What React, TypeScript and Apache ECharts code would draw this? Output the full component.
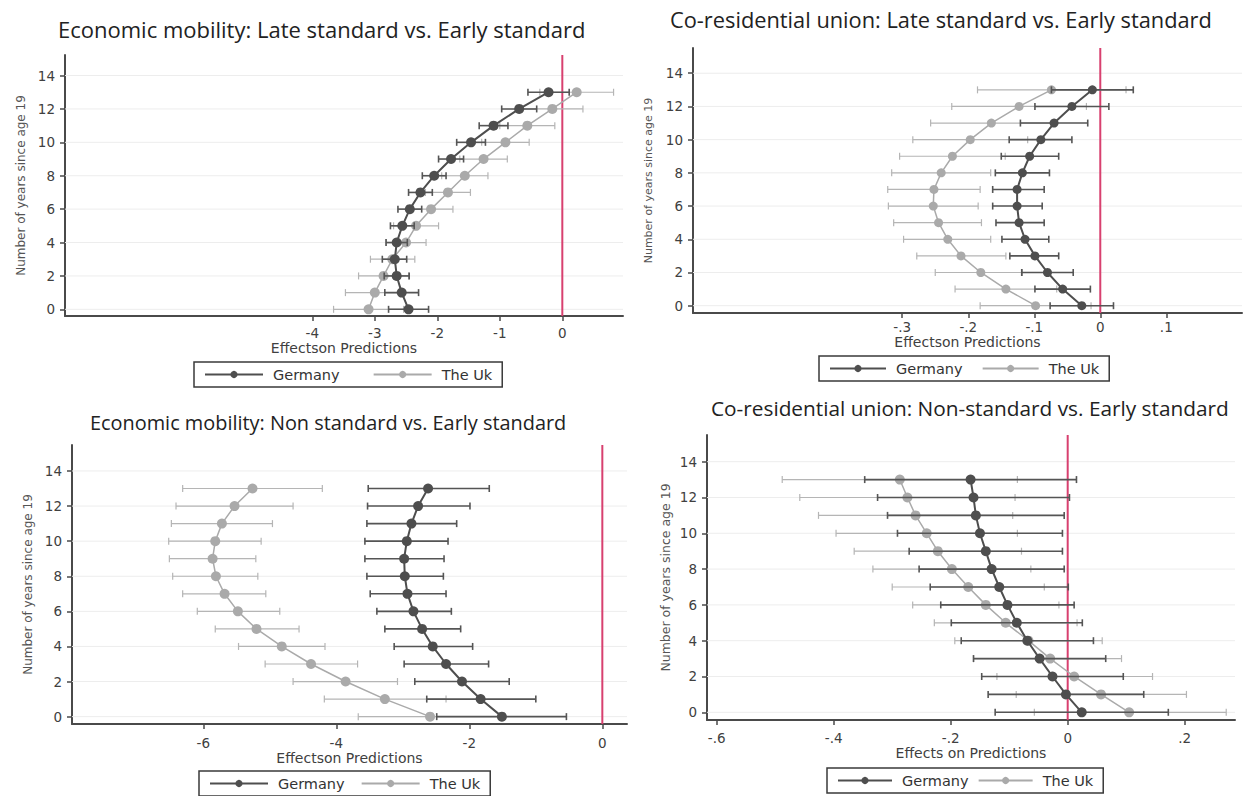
import React, { useEffect, useRef } from "react";
import * as echarts from "echarts";

// ---------- data ----------
const years = [0, 1, 2, 3, 4, 5, 6, 7, 8, 9, 10, 11, 12, 13];
const yTicks = [0, 2, 4, 6, 8, 10, 12, 14];

// Panel 1: Economic mobility, Late standard vs. Early standard
const p1XTicks = [-4, -3, -2, -1, 0];
const p1GerEst = [-2.46, -2.57, -2.65, -2.68, -2.65, -2.56, -2.44, -2.27, -2.05, -1.78, -1.46, -1.10, -0.69, -0.22];
const p1GerLo = [-2.78, -2.84, -2.85, -2.88, -2.82, -2.75, -2.63, -2.46, -2.24, -1.98, -1.69, -1.33, -0.97, -0.55];
const p1GerHi = [-2.14, -2.30, -2.45, -2.49, -2.48, -2.37, -2.25, -2.08, -1.86, -1.58, -1.23, -0.87, -0.41, 0.11];
const p1UkEst = [-3.10, -3.00, -2.86, -2.72, -2.50, -2.34, -2.10, -1.83, -1.56, -1.26, -0.91, -0.56, -0.16, 0.23];
const p1UkLo = [-3.66, -3.47, -3.26, -3.07, -2.82, -2.70, -2.45, -2.19, -1.93, -1.64, -1.29, -1.00, -0.65, -0.36];
const p1UkHi = [-2.54, -2.53, -2.46, -2.36, -2.18, -1.98, -1.75, -1.47, -1.19, -0.88, -0.53, -0.12, 0.33, 0.82];

// Panel 2: Co-residential union, Late standard vs. Early standard
const p2XTicks = [-0.3, -0.2, -0.1, 0, 0.1];
const p2GerEst = [-0.028, -0.057, -0.080, -0.099, -0.114, -0.123, -0.126, -0.126, -0.118, -0.107, -0.090, -0.070, -0.043, -0.012];
const p2GerLo = [-0.076, -0.099, -0.119, -0.137, -0.149, -0.158, -0.163, -0.163, -0.159, -0.150, -0.138, -0.121, -0.099, -0.074];
const p2GerHi = [0.020, -0.015, -0.041, -0.063, -0.078, -0.085, -0.088, -0.085, -0.077, -0.063, -0.043, -0.019, 0.013, 0.050];
const p2UkEst = [-0.098, -0.143, -0.181, -0.211, -0.231, -0.245, -0.253, -0.252, -0.241, -0.224, -0.197, -0.165, -0.123, -0.074];
const p2UkLo = [-0.182, -0.220, -0.250, -0.278, -0.298, -0.313, -0.321, -0.322, -0.316, -0.304, -0.284, -0.257, -0.225, -0.186];
const p2UkHi = [-0.014, -0.066, -0.118, -0.143, -0.166, -0.180, -0.185, -0.182, -0.166, -0.144, -0.110, -0.074, -0.021, 0.039];

// Panel 3: Economic mobility, Non standard vs. Early standard
const p3XTicks = [-6, -4, -2, 0];
const p3GerEst = [-1.51, -1.83, -2.11, -2.35, -2.55, -2.71, -2.84, -2.93, -2.97, -2.98, -2.94, -2.87, -2.77, -2.62];
const p3GerLo = [-2.49, -2.64, -2.82, -2.98, -3.13, -3.27, -3.39, -3.49, -3.54, -3.57, -3.57, -3.54, -3.53, -3.52];
const p3GerHi = [-0.54, -1.00, -1.40, -1.71, -1.95, -2.13, -2.27, -2.35, -2.39, -2.38, -2.32, -2.19, -1.99, -1.70];
const p3UkEst = [-2.59, -3.27, -3.86, -4.38, -4.82, -5.20, -5.48, -5.68, -5.81, -5.86, -5.82, -5.72, -5.53, -5.26];
const p3UkLo = [-3.67, -4.18, -4.65, -5.07, -5.47, -5.82, -6.09, -6.31, -6.46, -6.51, -6.52, -6.48, -6.41, -6.31];
const p3UkHi = [-1.51, -2.35, -3.08, -3.68, -4.17, -4.56, -4.85, -5.06, -5.18, -5.21, -5.13, -4.96, -4.65, -4.21];

// Panel 4: Co-residential union, Non-standard vs. Early standard
const p4XTicks = [-0.6, -0.4, -0.2, 0, 0.2];
const p4GerEst = [0.024, -0.003, -0.026, -0.048, -0.069, -0.087, -0.103, -0.117, -0.130, -0.140, -0.150, -0.157, -0.161, -0.166];
const p4GerLo = [-0.124, -0.136, -0.147, -0.161, -0.182, -0.199, -0.217, -0.235, -0.254, -0.271, -0.291, -0.308, -0.325, -0.347];
const p4GerHi = [0.172, 0.130, 0.095, 0.065, 0.044, 0.025, 0.011, 0.001, -0.006, -0.009, -0.009, -0.006, 0.003, 0.015];
const p4UkEst = [0.105, 0.057, 0.011, -0.030, -0.067, -0.106, -0.140, -0.170, -0.198, -0.222, -0.241, -0.260, -0.274, -0.287];
const p4UkLo = [-0.057, -0.088, -0.121, -0.161, -0.193, -0.228, -0.265, -0.300, -0.333, -0.365, -0.396, -0.426, -0.458, -0.488];
const p4UkHi = [0.271, 0.203, 0.145, 0.092, 0.059, 0.016, -0.015, -0.040, -0.063, -0.079, -0.086, -0.094, -0.090, -0.086];

const titles = [
  "Economic mobility: Late standard vs. Early standard",
  "Co-residential union: Late standard vs. Early standard",
  "Economic mobility: Non standard vs. Early standard",
  "Co-residential union: Non-standard vs. Early standard",
];
const xNames = ["Effectson Predictions", "Effectson Predictions", "Effectson Predictions", "Effects on Predictions"];
const yName = "Number of years since age 19";
const seriesNames = ["Germany", "The Uk"];

// ---------- styling / layout ----------
const GER_COLOR = "#4e4e4e";
const UK_COLOR = "#aaaaaa";
const GER_BAR = "#555555";
const UK_BAR = "#b5b5b5";
const AXIS_COLOR = "#4a4a4a";
const RED = "#d8406f";
const SANS = "DejaVu Sans";
const TITLE_FONT = "Open Sans";

const panels = [
  {
    grid: { left: 65, top: 55, width: 558, height: 261 },
    xMin: -7.957, xMax: 0.971, yMin: -0.4, yMax: 15.23,
    xTicks: p1XTicks,
    ger: [p1GerEst, p1GerLo, p1GerHi], uk: [p1UkEst, p1UkLo, p1UkHi],
    titlePos: { left: 58, top: 18 }, titleSize: 22,
    xNameGap: 23, xLabelMargin: 10, yNameGap: 38, yNameSize: 12,
    legend: { left: 194, top: 362, itemWidth: 58, itemGap: 33 },
    sym: 10,
  },
  {
    grid: { left: 693, top: 48, width: 549, height: 265 },
    xMin: -0.617, xMax: 0.2147, yMin: -0.44, yMax: 15.52,
    xTicks: p2XTicks,
    ger: [p2GerEst, p2GerLo, p2GerHi], uk: [p2UkEst, p2UkLo, p2UkHi],
    titlePos: { left: 670, top: 8 }, titleSize: 21.8,
    xNameGap: 20, xLabelMargin: 7, yNameGap: 39, yNameSize: 11,
    legend: { left: 819, top: 356, itemWidth: 56, itemGap: 19 },
    sym: 9,
  },
  {
    grid: { left: 72, top: 445, width: 555, height: 279 },
    xMin: -7.974, xMax: 0.371, yMin: -0.42, yMax: 15.48,
    xTicks: p3XTicks,
    ger: [p3GerEst, p3GerLo, p3GerHi], uk: [p3UkEst, p3UkLo, p3UkHi],
    titlePos: { left: 90, top: 412 }, titleSize: 19.9,
    xNameGap: 23, xLabelMargin: 12, yNameGap: 38, yNameSize: 12,
    legend: { left: 199, top: 771, itemWidth: 58, itemGap: 16 },
    sym: 10,
  },
  {
    grid: { left: 707, top: 435, width: 528, height: 285 },
    xMin: -0.6166, xMax: 0.286, yMin: -0.43, yMax: 15.49,
    xTicks: p4XTicks,
    ger: [p4GerEst, p4GerLo, p4GerHi], uk: [p4UkEst, p4UkLo, p4UkHi],
    titlePos: { left: 711, top: 397 }, titleSize: 20.8,
    xNameGap: 24, xLabelMargin: 11, yNameGap: 35, yNameSize: 12.5,
    legend: { left: 827, top: 768, itemWidth: 54, itemGap: 9 },
    sym: 10,
  },
];

function stataFmt(v: number): string {
  if (Math.abs(v) < 1e-9) return "0";
  const s = String(Math.round(v * 1000) / 1000);
  return s.replace(/^(-?)0\./, "$1.");
}

function errorBar(color: string, width: number, cap: number) {
  return (params: any, api: any) => {
    const y = api.value(0);
    const lo = api.coord([api.value(1), y]);
    const hi = api.coord([api.value(2), y]);
    const st = { stroke: color, lineWidth: width };
    return {
      type: "group",
      children: [
        { type: "line", shape: { x1: lo[0], y1: lo[1], x2: hi[0], y2: hi[1] }, style: st },
        { type: "line", shape: { x1: lo[0], y1: lo[1] - cap, x2: lo[0], y2: lo[1] + cap }, style: st },
        { type: "line", shape: { x1: hi[0], y1: hi[1] - cap, x2: hi[0], y2: hi[1] + cap }, style: st },
      ],
    };
  };
}

function gridLineRender(params: any, api: any) {
  const cs = params.coordSys;
  const p = api.coord([0, api.value(0)]);
  return {
    type: "line",
    shape: { x1: cs.x, y1: p[1], x2: cs.x + cs.width, y2: p[1] },
    style: { stroke: "#ededed", lineWidth: 1 },
  };
}

function zeroLineRender(params: any, api: any) {
  const cs = params.coordSys;
  const p = api.coord([api.value(0), 0]);
  return {
    type: "line",
    shape: { x1: p[0], y1: cs.y, x2: p[0], y2: cs.y + cs.height },
    style: { stroke: RED, lineWidth: 2 },
  };
}

function buildOption() {
  const grid: any[] = [];
  const xAxis: any[] = [];
  const yAxis: any[] = [];
  const series: any[] = [];
  const legend: any[] = [];
  const title: any[] = [];

  panels.forEach((p, i) => {
    grid.push({ ...p.grid, containLabel: false });
    title.push({
      text: titles[i],
      left: p.titlePos.left,
      top: p.titlePos.top,
      padding: 0,
      textStyle: { fontFamily: TITLE_FONT, fontSize: p.titleSize, fontWeight: "normal", color: "#222" },
    });
    xAxis.push({
      type: "value",
      gridIndex: i,
      min: p.xMin,
      max: p.xMax,
      axisLine: { show: true, onZero: false, lineStyle: { color: AXIS_COLOR, width: 2 } },
      axisTick: { show: true, customValues: p.xTicks, length: 5, lineStyle: { color: AXIS_COLOR, width: 1.5 } },
      axisLabel: {
        customValues: p.xTicks,
        formatter: (v: number) => stataFmt(v),
        margin: p.xLabelMargin,
        fontFamily: SANS,
        fontSize: 13.5,
        color: "#404040",
      },
      splitLine: { show: false },
      name: xNames[i],
      nameLocation: "middle",
      nameGap: p.xNameGap,
      nameTextStyle: { fontFamily: SANS, fontSize: 14, color: "#404040" },
    });
    yAxis.push({
      type: "value",
      gridIndex: i,
      min: p.yMin,
      max: p.yMax,
      axisLine: { show: true, onZero: false, lineStyle: { color: AXIS_COLOR, width: 2 } },
      axisTick: { show: true, customValues: yTicks, length: 5, lineStyle: { color: AXIS_COLOR, width: 1.5 } },
      axisLabel: {
        customValues: yTicks,
        formatter: (v: number) => String(v),
        margin: 10,
        fontFamily: SANS,
        fontSize: 13.5,
        color: "#404040",
      },
      splitLine: { show: false },
      name: yName,
      nameLocation: "middle",
      nameGap: p.yNameGap,
      nameTextStyle: { fontFamily: SANS, fontSize: p.yNameSize, color: "#555" },
    });

    // gridlines
    series.push({
      type: "custom",
      name: "grid" + i,
      xAxisIndex: i,
      yAxisIndex: i,
      silent: true,
      z: 1,
      renderItem: gridLineRender,
      data: yTicks.map((v) => [v]),
      encode: { y: 0 },
    });
    // zero reference line
    series.push({
      type: "custom",
      name: "zero" + i,
      xAxisIndex: i,
      yAxisIndex: i,
      silent: true,
      z: 2,
      renderItem: zeroLineRender,
      data: [[0]],
      encode: { x: 0 },
    });

    const groups = [
      { name: seriesNames[1], d: p.uk, color: UK_COLOR, bar: UK_BAR, lw: 1.5, bw: 1.2, z: 3 },
      { name: seriesNames[0], d: p.ger, color: GER_COLOR, bar: GER_BAR, lw: 2, bw: 1.6, z: 5 },
    ];
    groups.forEach((g) => {
      const [est, lo, hi] = g.d;
      series.push({
        type: "line",
        name: g.name,
        xAxisIndex: i,
        yAxisIndex: i,
        z: g.z + 1,
        symbol: "circle",
        symbolSize: p.sym,
        showSymbol: true,
        itemStyle: { color: g.color },
        lineStyle: { color: g.color, width: g.lw },
        data: years.map((y, k) => [est[k], y]),
      });
      series.push({
        type: "custom",
        name: g.name + " CI",
        xAxisIndex: i,
        yAxisIndex: i,
        z: g.z,
        silent: true,
        renderItem: errorBar(g.bar, g.bw, 3.5),
        data: years.map((y, k) => [y, lo[k], hi[k]]),
        encode: { y: 0, x: [1, 2] },
      });
    });

    legend.push({
      left: p.legend.left,
      top: p.legend.top,
      orient: "horizontal",
      data: seriesNames,
      selectedMode: false,
      itemWidth: p.legend.itemWidth,
      itemHeight: 9,
      itemGap: p.legend.itemGap,
      padding: [5, 10, 5, 10],
      borderColor: "#3a3a3a",
      borderWidth: 1.5,
      borderRadius: 0,
      backgroundColor: "#ffffff",
      textStyle: { fontFamily: SANS, fontSize: 14.5, color: "#333", padding: [0, 0, 0, 5] },
    });
  });

  return {
    animation: false,
    backgroundColor: "#ffffff",
    title,
    grid,
    xAxis,
    yAxis,
    legend,
    series,
  };
}

export default function App() {
  const ref = useRef<HTMLDivElement>(null);
  useEffect(() => {
    if (!ref.current) return;
    const chart = echarts.init(ref.current, null, { renderer: "svg" });
    chart.setOption(buildOption() as any);
    return () => chart.dispose();
  }, []);
  return (
    <div
      ref={ref}
      style={{ position: "fixed", left: 0, top: 0, width: 1243, height: 796, background: "#fff" }}
    />
  );
}
